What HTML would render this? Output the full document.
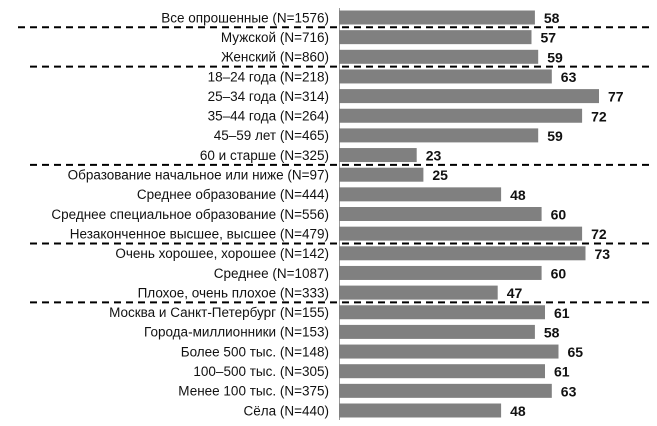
<!DOCTYPE html>
<html><head><meta charset="utf-8"><style>
html,body{margin:0;padding:0;background:#fff;}
svg{display:block;}
.l{font-family:"Liberation Sans Narrow","Liberation Sans",sans-serif;font-size:13.5px;fill:#111;text-anchor:end;}
.v{font-family:"Liberation Sans Narrow","Liberation Sans",sans-serif;font-size:14px;font-weight:bold;fill:#111;}
</style></head><body>
<svg width="657" height="426" viewBox="0 0 657 426" xmlns="http://www.w3.org/2000/svg">
<line x1="339.5" y1="8" x2="339.5" y2="420" stroke="#999" stroke-width="1"/>
<g fill="#808080">
<rect x="339" y="10.5" width="195.9" height="14"/>
<rect x="339" y="30.15" width="192.5" height="14"/>
<rect x="339" y="49.8" width="199.2" height="14"/>
<rect x="339" y="69.45" width="212.8" height="14"/>
<rect x="339" y="89.1" width="260" height="14"/>
<rect x="339" y="108.75" width="243.1" height="14"/>
<rect x="339" y="128.4" width="199.2" height="14"/>
<rect x="339" y="148.05" width="77.7" height="14"/>
<rect x="339" y="167.7" width="84.4" height="14"/>
<rect x="339" y="187.35" width="162.1" height="14"/>
<rect x="339" y="207" width="202.6" height="14"/>
<rect x="339" y="226.65" width="243.1" height="14"/>
<rect x="339" y="246.3" width="246.5" height="14"/>
<rect x="339" y="265.95" width="202.6" height="14"/>
<rect x="339" y="285.6" width="158.7" height="14"/>
<rect x="339" y="305.25" width="206" height="14"/>
<rect x="339" y="324.9" width="195.9" height="14"/>
<rect x="339" y="344.55" width="219.5" height="14"/>
<rect x="339" y="364.2" width="206" height="14"/>
<rect x="339" y="383.85" width="212.8" height="14"/>
<rect x="339" y="403.5" width="162.1" height="14"/>
</g>
<g class="l">
<text class="l" x="329" y="22.3">Все опрошенные (N=1576)</text>
<text class="l" x="329" y="41.95">Мужской (N=716)</text>
<text class="l" x="329" y="61.6">Женский (N=860)</text>
<text class="l" x="329" y="81.25">18–24 года (N=218)</text>
<text class="l" x="329" y="100.9">25–34 года (N=314)</text>
<text class="l" x="329" y="120.55">35–44 года (N=264)</text>
<text class="l" x="329" y="140.2">45–59 лет (N=465)</text>
<text class="l" x="329" y="159.85">60 и старше (N=325)</text>
<text class="l" x="329" y="179.5">Образование начальное или ниже (N=97)</text>
<text class="l" x="329" y="199.15">Среднее образование (N=444)</text>
<text class="l" x="329" y="218.8">Среднее специальное образование (N=556)</text>
<text class="l" x="329" y="238.45">Незаконченное высшее, высшее (N=479)</text>
<text class="l" x="329" y="258.1">Очень хорошее, хорошее (N=142)</text>
<text class="l" x="329" y="277.75">Среднее (N=1087)</text>
<text class="l" x="329" y="297.4">Плохое, очень плохое (N=333)</text>
<text class="l" x="329" y="317.05">Москва и Санкт-Петербург (N=155)</text>
<text class="l" x="329" y="336.7">Города-миллионники (N=153)</text>
<text class="l" x="329" y="356.35">Более 500 тыс. (N=148)</text>
<text class="l" x="329" y="376">100–500 тыс. (N=305)</text>
<text class="l" x="329" y="395.65">Менее 100 тыс. (N=375)</text>
<text class="l" x="329" y="415.3">Сёла (N=440)</text>
</g>
<text class="v" x="543.9" y="23">58</text>
<text class="v" x="540.5" y="42.65">57</text>
<text class="v" x="547.2" y="62.3">59</text>
<text class="v" x="560.8" y="81.95">63</text>
<text class="v" x="608" y="101.6">77</text>
<text class="v" x="591.1" y="121.25">72</text>
<text class="v" x="547.2" y="140.9">59</text>
<text class="v" x="425.7" y="160.55">23</text>
<text class="v" x="432.4" y="180.2">25</text>
<text class="v" x="510.1" y="199.85">48</text>
<text class="v" x="550.6" y="219.5">60</text>
<text class="v" x="591.1" y="239.15">72</text>
<text class="v" x="594.5" y="258.8">73</text>
<text class="v" x="550.6" y="278.45">60</text>
<text class="v" x="506.7" y="298.1">47</text>
<text class="v" x="554" y="317.75">61</text>
<text class="v" x="543.9" y="337.4">58</text>
<text class="v" x="567.5" y="357.05">65</text>
<text class="v" x="554" y="376.7">61</text>
<text class="v" x="560.8" y="396.35">63</text>
<text class="v" x="510.1" y="416">48</text>
<g stroke="#000" stroke-width="2" stroke-dasharray="7,5">
<line x1="18" y1="27.3" x2="650" y2="27.3"/>
<line x1="30" y1="66.6" x2="650" y2="66.6"/>
<line x1="30" y1="164.9" x2="650" y2="164.9"/>
<line x1="30" y1="243.5" x2="650" y2="243.5"/>
<line x1="30" y1="302.4" x2="650" y2="302.4"/>
</g>
</svg>
</body></html>
